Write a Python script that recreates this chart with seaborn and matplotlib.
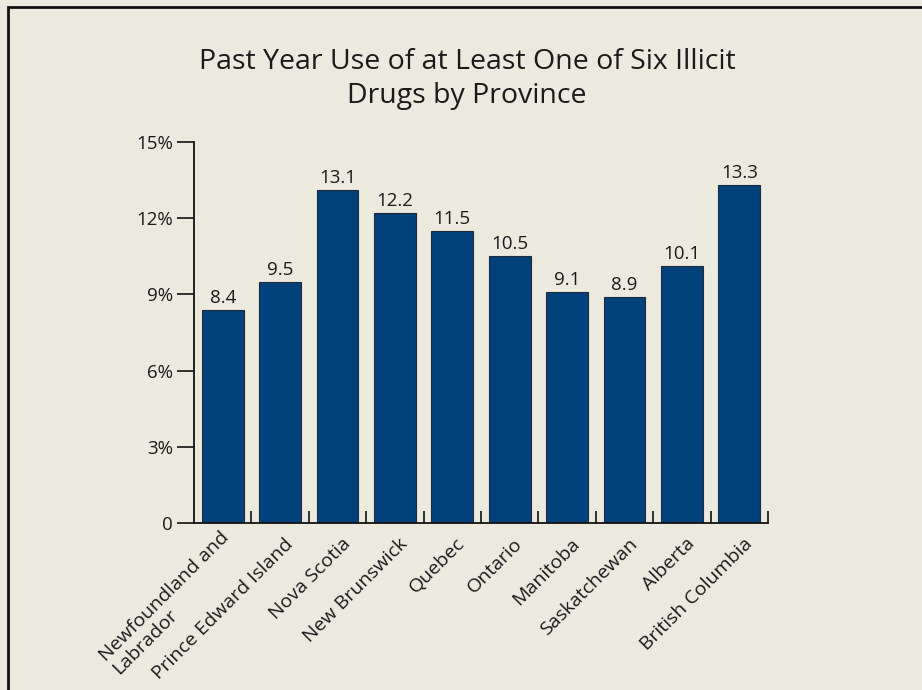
import matplotlib
matplotlib.use("Agg")
import matplotlib.pyplot as plt
import seaborn as sns
import pandas as pd
from matplotlib.patches import Rectangle
from matplotlib.ticker import FixedLocator
from matplotlib.transforms import ScaledTranslation

provinces = ["Newfoundland and\nLabrador", "Prince Edward Island", "Nova Scotia",
             "New Brunswick", "Quebec", "Ontario", "Manitoba", "Saskatchewan",
             "Alberta", "British Columbia"]
values = [8.4, 9.5, 13.1, 12.2, 11.5, 10.5, 9.1, 8.9, 10.1, 13.3]
yticks = [0, 3, 6, 9, 12, 15]
ytick_labels = ["0", "3%", "6%", "9%", "12%", "15%"]
title = "Past Year Use of at Least One of Six Illicit\nDrugs by Province"

bg = "#ECE9DF"
bar_color = "#00417B"
text_color = "#1A1A1A"

sns.set_theme(style="white")
plt.rcParams["font.family"] = ["Open Sans", "DejaVu Sans"]

fig = plt.figure(figsize=(9.22, 6.90), dpi=100)
fig.patch.set_facecolor(bg)
ax = fig.add_axes([194/922, 1-523/690, (768-194)/922, (523-142)/690])
ax.set_facecolor(bg)

df = pd.DataFrame({"province": provinces, "value": values})
sns.barplot(data=df, x="province", y="value", color=bar_color, saturation=1,
            width=0.73, edgecolor="#1E2A38", linewidth=0.8, ax=ax)

ax.set_xlim(-0.5, len(provinces) - 0.5)
ax.set_ylim(0, 15)
ax.set_yticks(yticks)
ax.set_yticklabels(ytick_labels, fontsize=13.5, color=text_color)
ax.set_xlabel("")
ax.set_ylabel("")

for s in ["top", "right"]:
    ax.spines[s].set_visible(False)
for s in ["left", "bottom"]:
    ax.spines[s].set_color("#111111")
    ax.spines[s].set_linewidth(1.3)

ax.tick_params(axis="y", left=True, direction="out", length=12, width=1.3, color="#222222", pad=3)
ax.tick_params(axis="x", which="major", bottom=True, length=0, pad=13)
ax.xaxis.set_minor_locator(FixedLocator([i + 0.5 for i in range(len(provinces))]))
ax.tick_params(axis="x", which="minor", bottom=True, direction="in", length=9, width=1.3, color="#222222")

ax.set_xticks(range(len(provinces)))
ax.set_xticklabels(provinces, rotation=45, ha="right", va="center", rotation_mode="anchor",
                   fontsize=14, color=text_color, linespacing=1.0, multialignment="left")
offset = ScaledTranslation(10/100, 0, fig.dpi_scale_trans)
for lbl in ax.get_xticklabels():
    lbl.set_transform(lbl.get_transform() + offset)

for i, v in enumerate(values):
    ax.text(i, v + 0.12, f"{v:.1f}", ha="center", va="bottom", fontsize=13.5, color=text_color)

fig.text(467/922, 1-79/690, title, ha="center", va="center", fontsize=20.5,
         color=text_color, linespacing=1.3)

fig.patches.append(Rectangle((8/922, -0.1), 1.2, 1.1 - 7/690, transform=fig.transFigure,
                             fill=False, edgecolor="#111111", linewidth=2.0))

fig.savefig("out.png", dpi=100, facecolor=bg)
